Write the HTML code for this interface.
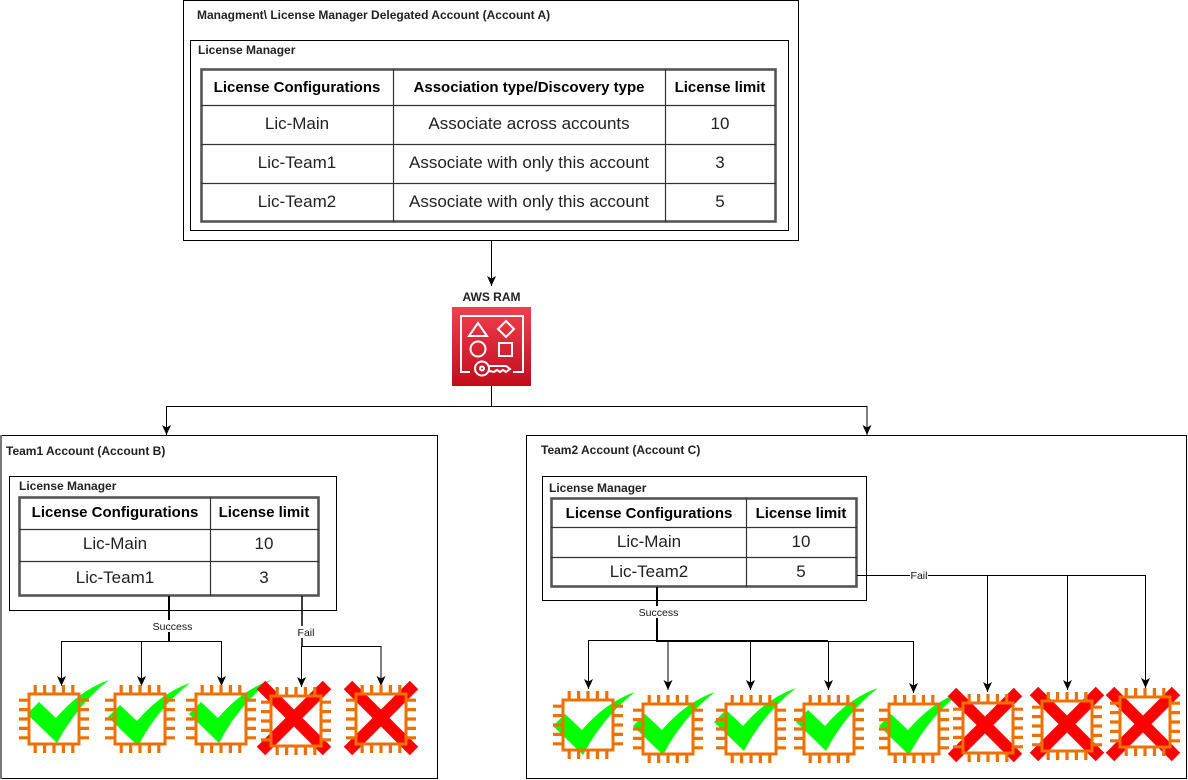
<!DOCTYPE html>
<html><head><meta charset="utf-8"><style>
html,body{margin:0;padding:0;background:#fff}
svg{display:block}
text{font-family:"Liberation Sans",Arial,sans-serif;fill:#000}
.h{font-weight:bold;font-size:15px;text-anchor:middle}
.b{font-size:17px;text-anchor:middle;fill:#222}
.t{font-weight:bold;font-size:12px;fill:#222}
.l{font-size:10.5px;text-anchor:middle;fill:#111}
.g{fill:none;stroke:#000;stroke-width:1}
.tb{fill:none;stroke:#333;stroke-width:1.2}
.to{fill:none;stroke:#555;stroke-width:2.6}
</style></head><body>
<svg width="1188" height="780" viewBox="0 0 1188 780" xmlns="http://www.w3.org/2000/svg">
<defs>
<marker id="a" markerUnits="userSpaceOnUse" markerWidth="12" markerHeight="12" refX="10" refY="6" orient="auto"><path d="M0 1.500L10 6L0 10.500L2.500 6Z" fill="#000"/></marker>
<linearGradient id="rg" x1="0" y1="1" x2="0" y2="0"><stop offset="0" stop-color="#C10C1C"/><stop offset="1" stop-color="#F04050"/></linearGradient>
<g id="chip" fill="none" stroke="#ED7100">
<rect x="-25" y="-25" width="50" height="50" stroke-width="3"/>
<path d="M-18.800 -25V-34M-9.400 -25V-34M0 -25V-34M9.400 -25V-34M18.800 -25V-34M-18.800 25V34M-9.400 25V34M0 25V34M9.400 25V34M18.800 25V34M-25 -18.800H-35M-25 -9.400H-35M-25 0H-35M-25 9.400H-35M-25 18.800H-35M25 -18.800H35M25 -9.400H35M25 0H35M25 9.400H35M25 18.800H35" stroke-width="3.200"/>
</g>
<path id="chk" d="M0 34L12 22L29 38Q53 10 82 0Q50 25 30 63Z" fill="#00FF00"/>
<path id="xx" d="M-33 -33L33 33M33 -33L-33 33" stroke="#FF0000" stroke-width="12" fill="none"/>
</defs>

<!-- Account A -->
<rect class="g" x="183.500" y="0.500" width="615" height="240" fill="#fff"/>
<text class="t" x="197" y="19">Managment\ License Manager Delegated Account (Account A)</text>
<rect class="g" x="190.500" y="40.500" width="598" height="190"/>
<text class="t" x="198" y="54">License Manager</text>
<rect class="to" x="201.500" y="69.500" width="574" height="152"/>
<path class="tb" d="M393.500 69V222M665.500 69V222M201 105.500H776M201 144.500H776M201 183.500H776"/>
<text class="h" x="297" y="92">License Configurations</text>
<text class="h" x="529" y="92">Association type/Discovery type</text>
<text class="h" x="720" y="92">License limit</text>
<text class="b" x="297" y="129">Lic-Main</text>
<text class="b" x="529" y="129">Associate across accounts</text>
<text class="b" x="720" y="129">10</text>
<text class="b" x="297" y="168">Lic-Team1</text>
<text class="b" x="529" y="168">Associate with only this account</text>
<text class="b" x="720" y="168">3</text>
<text class="b" x="297" y="207">Lic-Team2</text>
<text class="b" x="529" y="207">Associate with only this account</text>
<text class="b" x="720" y="207">5</text>

<!-- RAM -->
<path class="g" d="M491.500 241V286" marker-end="url(#a)"/>
<text class="t" x="491.500" y="301" text-anchor="middle">AWS RAM</text>
<rect x="452" y="307" width="79" height="79" fill="url(#rg)"/>
<g fill="none" stroke="#fff" stroke-width="2">
<path d="M470 372H461V316H523V372H513"/>
<path d="M478 323L469 336H487Z"/>
<path d="M506 321L514 329L506 337L498 329Z"/>
<circle cx="478" cy="349" r="7.500"/>
<rect x="499" y="343" width="13" height="13"/>
<circle cx="482" cy="368.500" r="7"/>
<circle cx="482" cy="368.500" r="2"/>
<path d="M489 366H506L510 369L506 372L503 370L500 372L497 370L494 372L489 371"/>
</g>
<path class="g" d="M491.500 386V406.500"/>
<path class="g" d="M491 406.500H166.500V435" marker-end="url(#a)"/>
<path class="g" d="M491 406.500H867V435" marker-end="url(#a)"/>

<!-- Team1 -->
<rect class="g" x="0.500" y="435.500" width="437" height="343"/>
<path d="M1 435V779" stroke="#777" stroke-width="2"/>
<text class="t" x="6" y="455">Team1 Account (Account B)</text>
<rect class="g" x="9.500" y="476.500" width="327" height="134"/>
<text class="t" x="19" y="490">License Manager</text>
<rect class="to" x="19.500" y="497.500" width="299" height="98"/>
<path class="tb" d="M210.500 497V596M19 529.500H319M19 561.500H319"/>
<text class="h" x="115" y="517">License Configurations</text>
<text class="h" x="264" y="517">License limit</text>
<text class="b" x="115" y="549">Lic-Main</text>
<text class="b" x="264" y="549">10</text>
<text class="b" x="115" y="583">Lic-Team1</text>
<text class="b" x="264" y="583">3</text>

<path d="M169 596V641" stroke="#000" stroke-width="2" fill="none"/>
<path class="g" d="M169 641.500H61.500V686" marker-end="url(#a)"/>
<path class="g" d="M141.500 641.500V686" marker-end="url(#a)"/>
<path class="g" d="M169 641.500H221.500V686" marker-end="url(#a)"/>
<rect x="152" y="620" width="41" height="12" fill="#fff"/>
<text class="l" x="172.500" y="630">Success</text>
<path d="M302 596V646" stroke="#000" stroke-width="1.500" fill="none"/>
<path class="g" d="M301.500 646V687" marker-end="url(#a)"/>
<path class="g" d="M302 646.500H381V686" marker-end="url(#a)"/>
<rect x="297" y="626" width="19" height="12" fill="#fff"/>
<text class="l" x="306" y="636">Fail</text>

<use href="#chk" x="27" y="680"/><use href="#chip" x="54" y="719"/>
<use href="#chk" x="108" y="683"/><use href="#chip" x="140" y="719"/>
<use href="#chk" x="189" y="680"/><use href="#chip" x="221" y="719"/>
<use href="#xx" x="294" y="718"/><use href="#chip" x="296" y="721"/>
<use href="#xx" x="381" y="718"/><use href="#chip" x="381" y="719"/>

<!-- Team2 -->
<rect class="g" x="526.500" y="435.500" width="660" height="343"/>
<text class="t" x="541" y="454">Team2 Account (Account C)</text>
<rect class="g" x="542.500" y="476.500" width="324" height="124"/>
<text class="t" x="549" y="492">License Manager</text>
<rect class="to" x="551.500" y="498.500" width="305" height="88"/>
<path class="tb" d="M746.500 498V587M551 527.500H857M551 557.500H857"/>
<text class="h" x="649" y="518">License Configurations</text>
<text class="h" x="801" y="518">License limit</text>
<text class="b" x="649" y="547">Lic-Main</text>
<text class="b" x="801" y="547">10</text>
<text class="b" x="649" y="577">Lic-Team2</text>
<text class="b" x="801" y="577">5</text>

<path d="M657 587V641H828" stroke="#000" stroke-width="2" fill="none"/>
<path class="g" d="M657 640.500H588.500V689" marker-end="url(#a)"/>
<path class="g" d="M668 641V690" marker-end="url(#a)"/>
<path class="g" d="M750.500 641V690" marker-end="url(#a)"/>
<path class="g" d="M828.500 641V690" marker-end="url(#a)"/>
<path class="g" d="M828 641.500H913.500V693" marker-end="url(#a)"/>
<rect x="637" y="606" width="43" height="12" fill="#fff"/>
<text class="l" x="658.500" y="616">Success</text>
<path class="g" d="M857 575.500H987.500V692" marker-end="url(#a)"/>
<path class="g" d="M987 575.500H1067.500V690" marker-end="url(#a)"/>
<path class="g" d="M1067 575.500H1145.500V688" marker-end="url(#a)"/>
<rect x="910" y="570" width="18" height="11" fill="#fff"/>
<text class="l" x="919" y="579">Fail</text>

<use href="#chk" x="553" y="692"/><use href="#chip" x="588" y="725"/>
<use href="#chk" x="633" y="692"/><use href="#chip" x="668" y="729"/>
<use href="#chk" x="714" y="688"/><use href="#chip" x="751" y="729"/>
<use href="#chk" x="796" y="688"/><use href="#chip" x="829" y="729"/>
<use href="#chk" x="879" y="692"/><use href="#chip" x="914" y="729"/>
<use href="#xx" x="985" y="725"/><use href="#chip" x="988" y="728"/>
<use href="#xx" x="1067" y="724"/><use href="#chip" x="1067" y="726"/>
<use href="#xx" x="1143" y="724"/><use href="#chip" x="1145" y="722"/>
</svg>
</body></html>
